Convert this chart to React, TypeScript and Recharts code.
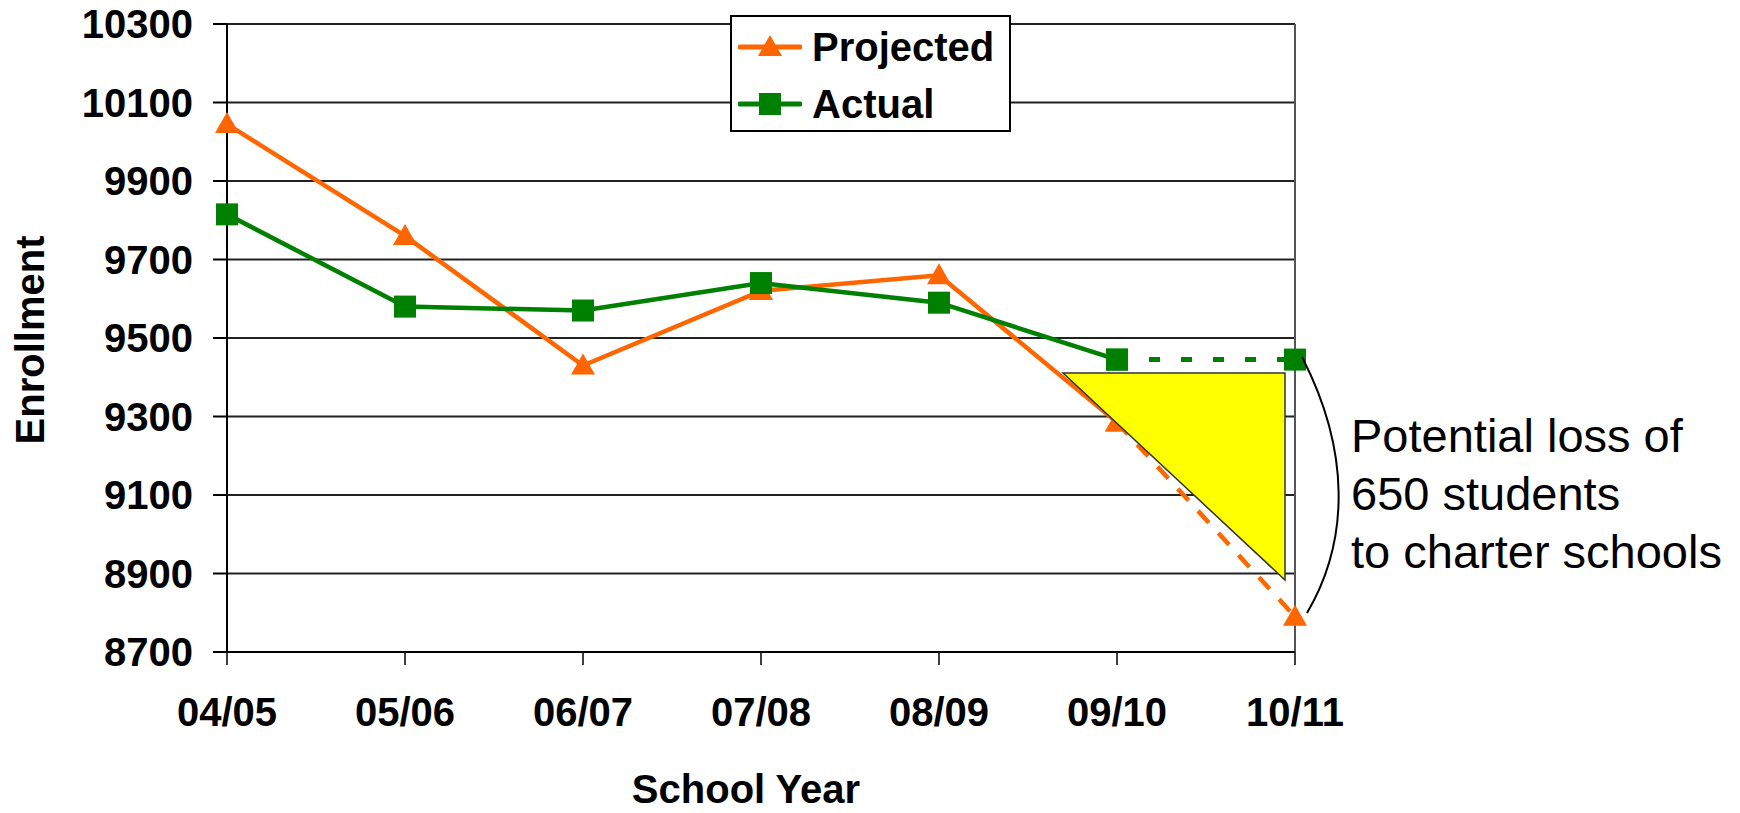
import React from 'react';
import {
  LineChart,
  Line,
  XAxis,
  YAxis,
  CartesianGrid,
  ReferenceLine
} from 'recharts';

const years = ['04/05', '05/06', '06/07', '07/08', '08/09', '09/10', '10/11'];
const projected = [10045, 9760, 9430, 9620, 9660, 9285, 8790];
const actual = [9815, 9580, 9570, 9640, 9590, 9445, 9445];
const yTicks = [8700, 8900, 9100, 9300, 9500, 9700, 9900, 10100, 10300];
const noteLines = ['Potential loss of', '650 students', 'to charter schools'];

// last segment of each series is drawn dashed / dotted
const splitAt = 5;
const chartData = years.map((year, i) => ({
  year,
  projSolid: i <= splitAt ? projected[i] : null,
  projDash: i >= splitAt ? projected[i] : null,
  actSolid: i <= splitAt ? actual[i] : null,
  actDot: i >= splitAt ? actual[i] : null
}));

const FONT = '"Liberation Sans", Arial, sans-serif';
const ORANGE = '#FF6600';
const GREEN = '#008000';

const TriangleDot = (props: any) => {
  const { cx, cy, index, payload } = props;
  if (cx == null || cy == null || payload == null) return <g key={`t-${index}`} />;
  return (
    <polygon
      key={`t-${index}`}
      points={`${cx},${cy - 12} ${cx - 12},${cy + 9} ${cx + 12},${cy + 9}`}
      fill={ORANGE}
    />
  );
};

const SquareDot = (props: any) => {
  const { cx, cy, index } = props;
  if (cx == null || cy == null) return <g key={`s-${index}`} />;
  return <rect key={`s-${index}`} x={cx - 11} y={cy - 11} width={22} height={22} fill={GREEN} />;
};

const tickStyle = { fontSize: 40, fontWeight: 700, fill: '#000', fontFamily: FONT };

export default function App() {
  return (
    <div style={{ position: 'absolute', left: 0, top: 0, width: 1740, height: 813, background: '#fff' }}>
      <LineChart
        width={1740}
        height={813}
        data={chartData}
        margin={{ top: 24, right: 445, bottom: 0, left: 0 }}
      >
        <CartesianGrid vertical={false} stroke="#222" strokeWidth={2} />
        <XAxis
          dataKey="year"
          height={161}
          tick={tickStyle}
          tickSize={13}
          tickMargin={33}
          axisLine={{ stroke: '#000', strokeWidth: 2 }}
          tickLine={{ stroke: '#000', strokeWidth: 1.5 }}
          interval={0}
        />
        <YAxis
          width={227}
          domain={[8700, 10300]}
          ticks={yTicks}
          tick={tickStyle}
          tickSize={14}
          tickMargin={20}
          axisLine={{ stroke: '#000', strokeWidth: 2 }}
          tickLine={{ stroke: '#000', strokeWidth: 2 }}
          allowDataOverflow
        />
        <ReferenceLine x="10/11" stroke="#555" strokeWidth={2} />
        <Line
          dataKey="projSolid"
          stroke={ORANGE}
          strokeWidth={4.5}
          dot={TriangleDot}
          activeDot={false}
          isAnimationActive={false}
        />
        <Line
          dataKey="projDash"
          stroke={ORANGE}
          strokeWidth={4.5}
          strokeDasharray="16 14"
          dot={TriangleDot}
          activeDot={false}
          isAnimationActive={false}
        />
        <Line
          dataKey="actSolid"
          stroke={GREEN}
          strokeWidth={4.5}
          dot={SquareDot}
          activeDot={false}
          isAnimationActive={false}
        />
        <Line
          dataKey="actDot"
          stroke={GREEN}
          strokeWidth={5}
          strokeDasharray="11 21"
          dot={SquareDot}
          activeDot={false}
          isAnimationActive={false}
        />
      </LineChart>

      <svg
        width={1740}
        height={813}
        style={{ position: 'absolute', left: 0, top: 0, pointerEvents: 'none' }}
      >
        <polygon points="1063,373 1285,373 1285,580" fill="#FFFF00" stroke="#333" strokeWidth={1.5} />
        <path d="M1302,357 C1350,450 1350,540 1307,613" fill="none" stroke="#000" strokeWidth={2} />
        {noteLines.map((t, i) => (
          <text key={t} x={1351} y={452 + i * 58} fontSize={47} fontFamily={FONT} fill="#000">
            {t}
          </text>
        ))}
        <text x={746} y={803} textAnchor="middle" fontSize={40} fontWeight={700} fontFamily={FONT}>
          School Year
        </text>
        <text
          x={44}
          y={340}
          textAnchor="middle"
          fontSize={40}
          fontWeight={700}
          fontFamily={FONT}
          transform="rotate(-90 44 340)"
        >
          Enrollment
        </text>
      </svg>

      <div
        style={{
          position: 'absolute',
          left: 730,
          top: 15,
          width: 277,
          height: 113,
          border: '2px solid #000',
          background: '#fff',
          fontFamily: FONT,
          fontWeight: 700,
          fontSize: 40
        }}
      >
        {[
          { name: 'Projected', color: ORANGE, shape: 'tri' },
          { name: 'Actual', color: GREEN, shape: 'sq' }
        ].map((item, i) => (
          <div
            key={item.name}
            style={{ position: 'absolute', left: 6, top: 8 + i * 57, height: 44, display: 'flex', alignItems: 'center' }}
          >
            <svg width={64} height={44}>
              <line x1={2} y1={22} x2={62} y2={22} stroke={item.color} strokeWidth={5} strokeLinecap="round" />
              {item.shape === 'tri' ? (
                <polygon points="32,10 20,31 44,31" fill={item.color} />
              ) : (
                <rect x={21} y={11} width={22} height={22} fill={item.color} />
              )}
            </svg>
            <span style={{ marginLeft: 10 }}>{item.name}</span>
          </div>
        ))}
      </div>
    </div>
  );
}
